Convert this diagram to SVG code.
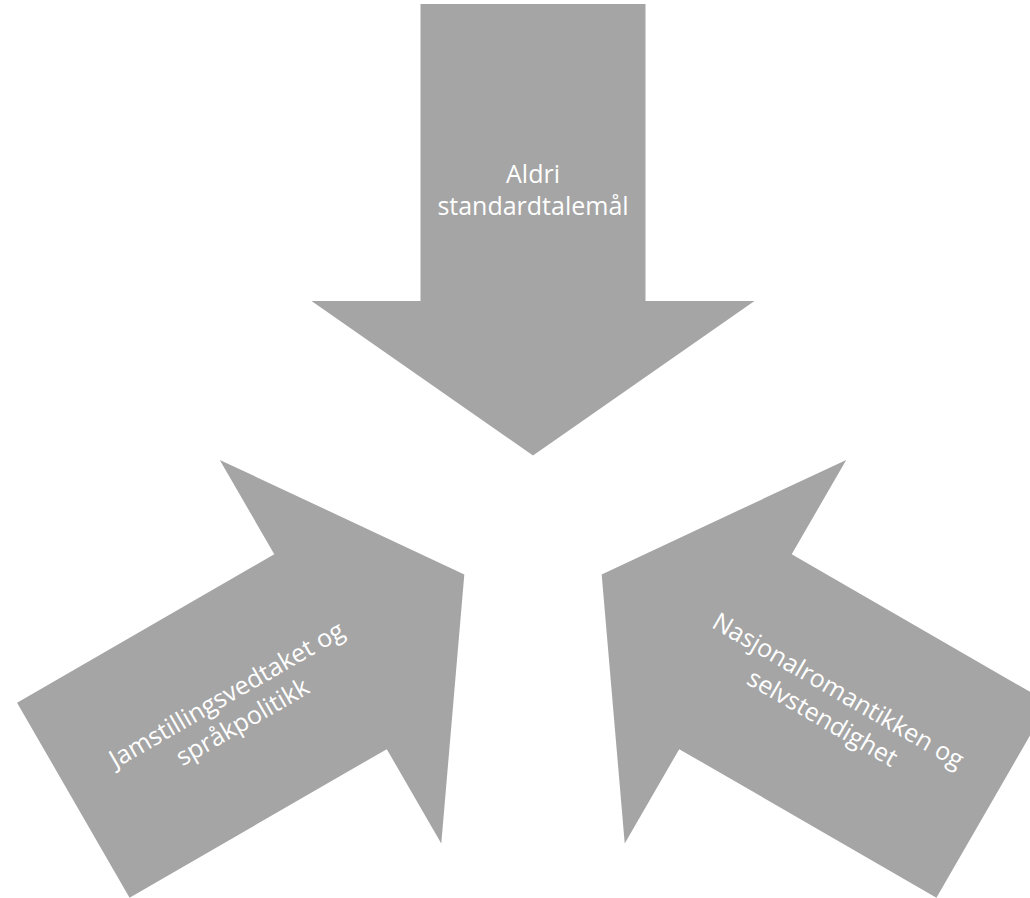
<svg xmlns="http://www.w3.org/2000/svg" width="1030" height="898" viewBox="0 0 1030 898">
  <style>
    .arrow { fill: #A5A5A5; stroke: none; }
    .label { fill: #FFFFFF; font-family: "Open Sans", "DejaVu Sans", sans-serif; font-size: 25px; text-anchor: middle; }
  </style>
  <defs>
    <path id="arrowShape" d="M420.5,4 H645.5 V301 H754.5 L533,455.5 L311.5,301 H420.5 Z"/>
  </defs>
  <rect x="0" y="0" width="1030" height="898" fill="#FFFFFF"/>
  <g id="connectors"></g>
  <g id="node-top">
    <use href="#arrowShape" class="arrow"/>
    <text class="label" x="533" y="183">Aldri</text>
    <text class="label" x="533" y="214.5">standardtalemål</text>
  </g>
  <g id="node-left">
    <use href="#arrowShape" class="arrow" transform="rotate(-120 533 534.8)"/>
    <g transform="translate(231 702) rotate(-30)">
      <text class="label" x="0" y="0">Jamstillingsvedtaket og</text>
      <text class="label" x="0" y="31.5">språkpolitikk</text>
    </g>
  </g>
  <g id="node-right">
    <use href="#arrowShape" class="arrow" transform="rotate(120 533 534.8)"/>
    <g transform="translate(834 698) rotate(30)">
      <text class="label" x="0" y="0">Nasjonalromantikken og</text>
      <text class="label" x="0" y="31.5">selvstendighet</text>
    </g>
  </g>
</svg>
